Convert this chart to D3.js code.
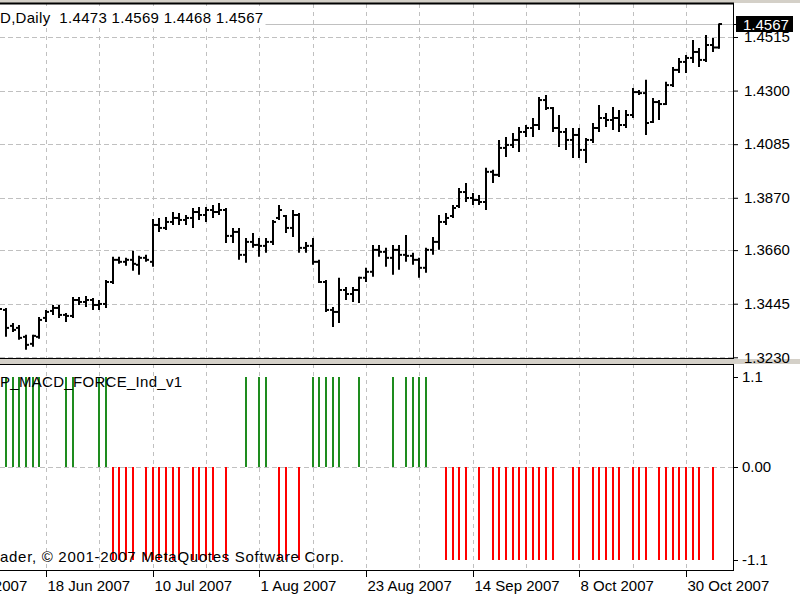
<!DOCTYPE html>
<html>
<head>
<meta charset="utf-8">
<script src="https://cdn.jsdelivr.net/npm/d3@7"></script>
<style>
body { margin: 0; background: #fff; }
svg text { font-family: "Liberation Sans", Arial, sans-serif; font-size: 15px; fill: #000; white-space: pre; }
</style>
</head>
<body>
<div id="chart"></div>
<script>
// daily bars, one entry per trading day (7 Jun 2007 .. 6 Nov 2007)
var opens = [
  1.3492, 1.3420, 1.3356, 1.3348, 1.3312, 1.3284, 1.3312, 1.3388, 1.3416, 1.3428,
  1.3400, 1.3396, 1.3460, 1.3452, 1.3460, 1.3440, 1.3444, 1.3532, 1.3621, 1.3613,
  1.3621, 1.3601, 1.3629, 1.3613, 1.3761, 1.3749, 1.3773, 1.3789, 1.3781, 1.3789,
  1.3813, 1.3801, 1.3821, 1.3813, 1.3821, 1.3717, 1.3733, 1.3641, 1.3693, 1.3681,
  1.3677, 1.3693, 1.3789, 1.3797, 1.3749, 1.3801, 1.3669, 1.3677, 1.3613, 1.3532,
  1.3420, 1.3412, 1.3500, 1.3484, 1.3500, 1.3549, 1.3573, 1.3661, 1.3653, 1.3629,
  1.3661, 1.3641, 1.3637, 1.3621, 1.3589, 1.3661, 1.3693, 1.3773, 1.3797, 1.3837,
  1.3893, 1.3869, 1.3861, 1.3853, 1.3974, 1.3962, 1.4070, 1.4082, 1.4102, 1.4134,
  1.4150, 1.4162, 1.4262, 1.4230, 1.4150, 1.4134, 1.4102, 1.4122, 1.4062, 1.4102,
  1.4150, 1.4190, 1.4182, 1.4190, 1.4162, 1.4202, 1.4294, 1.4290, 1.4174, 1.4254,
  1.4246, 1.4322, 1.4383, 1.4415, 1.4431, 1.4455, 1.4423, 1.4483, 1.4473
];
var highs = [
  1.3512, 1.3428, 1.3368, 1.3360, 1.3320, 1.3320, 1.3392, 1.3420, 1.3440, 1.3440,
  1.3408, 1.3472, 1.3472, 1.3476, 1.3468, 1.3460, 1.3540, 1.3633, 1.3633, 1.3629,
  1.3657, 1.3637, 1.3641, 1.3785, 1.3789, 1.3793, 1.3813, 1.3809, 1.3801, 1.3829,
  1.3833, 1.3833, 1.3841, 1.3849, 1.3829, 1.3749, 1.3749, 1.3709, 1.3729, 1.3709,
  1.3709, 1.3781, 1.3841, 1.3801, 1.3821, 1.3809, 1.3693, 1.3709, 1.3621, 1.3540,
  1.3432, 1.3549, 1.3512, 1.3512, 1.3553, 1.3589, 1.3681, 1.3681, 1.3669, 1.3681,
  1.3681, 1.3721, 1.3649, 1.3629, 1.3669, 1.3713, 1.3801, 1.3809, 1.3841, 1.3909,
  1.3929, 1.3889, 1.3881, 1.3990, 1.3982, 1.4102, 1.4114, 1.4130, 1.4154, 1.4162,
  1.4190, 1.4274, 1.4282, 1.4234, 1.4202, 1.4150, 1.4150, 1.4150, 1.4110, 1.4170,
  1.4242, 1.4210, 1.4234, 1.4222, 1.4222, 1.4310, 1.4302, 1.4343, 1.4270, 1.4262,
  1.4335, 1.4395, 1.4431, 1.4443, 1.4503, 1.4471, 1.4523, 1.4511, 1.4569
];
var lows = [
  1.3420, 1.3312, 1.3332, 1.3300, 1.3260, 1.3272, 1.3304, 1.3372, 1.3400, 1.3388,
  1.3372, 1.3388, 1.3440, 1.3432, 1.3420, 1.3420, 1.3428, 1.3524, 1.3605, 1.3597,
  1.3577, 1.3561, 1.3613, 1.3593, 1.3733, 1.3741, 1.3761, 1.3761, 1.3761, 1.3749,
  1.3781, 1.3773, 1.3789, 1.3801, 1.3689, 1.3689, 1.3621, 1.3609, 1.3669, 1.3633,
  1.3649, 1.3681, 1.3781, 1.3729, 1.3713, 1.3649, 1.3649, 1.3601, 1.3528, 1.3412,
  1.3352, 1.3368, 1.3460, 1.3452, 1.3448, 1.3532, 1.3553, 1.3633, 1.3593, 1.3561,
  1.3581, 1.3613, 1.3601, 1.3549, 1.3569, 1.3641, 1.3661, 1.3761, 1.3789, 1.3829,
  1.3853, 1.3841, 1.3841, 1.3821, 1.3929, 1.3953, 1.4034, 1.4070, 1.4054, 1.4114,
  1.4114, 1.4142, 1.4222, 1.4134, 1.4074, 1.4062, 1.4030, 1.4030, 1.4010, 1.4090,
  1.4134, 1.4154, 1.4142, 1.4134, 1.4150, 1.4190, 1.4282, 1.4122, 1.4170, 1.4182,
  1.4242, 1.4314, 1.4371, 1.4371, 1.4411, 1.4395, 1.4415, 1.4455, 1.4468
];
var closes = [
  1.3424, 1.3348, 1.3340, 1.3308, 1.3280, 1.3316, 1.3380, 1.3412, 1.3428, 1.3400,
  1.3396, 1.3460, 1.3452, 1.3460, 1.3440, 1.3444, 1.3532, 1.3621, 1.3613, 1.3621,
  1.3605, 1.3629, 1.3621, 1.3761, 1.3749, 1.3773, 1.3789, 1.3781, 1.3789, 1.3813,
  1.3801, 1.3821, 1.3813, 1.3821, 1.3717, 1.3733, 1.3641, 1.3693, 1.3681, 1.3677,
  1.3693, 1.3773, 1.3821, 1.3749, 1.3801, 1.3669, 1.3677, 1.3613, 1.3532, 1.3420,
  1.3412, 1.3500, 1.3484, 1.3500, 1.3549, 1.3573, 1.3661, 1.3653, 1.3629, 1.3661,
  1.3641, 1.3637, 1.3621, 1.3589, 1.3661, 1.3693, 1.3773, 1.3789, 1.3829, 1.3893,
  1.3869, 1.3861, 1.3853, 1.3974, 1.3962, 1.4070, 1.4082, 1.4102, 1.4134, 1.4150,
  1.4162, 1.4262, 1.4230, 1.4150, 1.4134, 1.4102, 1.4122, 1.4062, 1.4102, 1.4150,
  1.4190, 1.4182, 1.4190, 1.4162, 1.4202, 1.4294, 1.4290, 1.4170, 1.4254, 1.4246,
  1.4322, 1.4383, 1.4415, 1.4431, 1.4455, 1.4423, 1.4483, 1.4473, 1.4567
];
// indicator: +1.1 = green, -1.1 = red, 0 = nothing
var force = [
  0, 1.1, 1.1, 1.1, 1.1, 1.1, 1.1, 0, 0, 0,
  1.1, 1.1, 0, 0, 0, 1.1, 1.1, -1.1, -1.1, -1.1,
  -1.1, 0, -1.1, -1.1, -1.1, -1.1, -1.1, -1.1, 0, -1.1,
  -1.1, -1.1, -1.1, 0, -1.1, 0, 0, 1.1, 0, 1.1,
  1.1, 0, -1.1, -1.1, 0, -1.1, 0, 1.1, 1.1, 1.1,
  1.1, 1.1, 0, 0, 1.1, 0, 0, 0, 0, 1.1,
  0, 1.1, 1.1, 1.1, 1.1, 0, 0, -1.1, -1.1, -1.1,
  -1.1, 0, -1.1, 0, -1.1, -1.1, -1.1, -1.1, -1.1, -1.1,
  -1.1, -1.1, -1.1, -1.1, 0, 0, -1.1, -1.1, 0, -1.1,
  -1.1, -1.1, -1.1, -1.1, 0, -1.1, -1.1, -1.1, 0, -1.1,
  -1.1, -1.1, -1.1, -1.1, -1.1, -1.1, 0, -1.1, 0
];
var priceTicks = [1.3230, 1.3445, 1.3660, 1.3870, 1.4085, 1.4300, 1.4515];
var forceTicks = [1.1, 0, -1.1];
var forceTickLabels = ["1.1", "0.00", "-1.1"];
var dateTicks = [-9, 7, 23, 39, 55, 71, 87, 103];   // bar index of each date label
var dateLabels = ["25 May 2007", "18 Jun 2007", "10 Jul 2007", "1 Aug 2007",
                  "23 Aug 2007", "14 Sep 2007", "8 Oct 2007", "30 Oct 2007"];
var lastBid = 1.4567;
var title = "D,Daily  1.4473 1.4569 1.4468 1.4567";
var indName = "P_MACD_FORCE_Ind_v1";
var copyright = "ader, \u00a9 2001-2007 MetaQuotes Software Corp.";

var W = 800, H = 600;
var right = 733, mainTop = 4, mainBottom = 358, subTop = 364, subBottom = 570;
var gridCol = "#c0c0c0";

var svg = d3.select("#chart").append("svg").attr("width", W).attr("height", H);
svg.append("rect").attr("width", W).attr("height", H).attr("fill", "#fff");

var x = d3.scaleLinear().domain([0, 108]).range([-0.7, 719.3]);
var y = d3.scaleLinear().domain([1.3230, 1.4515]).range([357.3, 37]);
var yf = d3.scaleLinear().domain([-1.1, 0, 1.1]).range([560, 467, 377]);
var px = function(i) { return Math.round(x(i)); };

svg.append("clipPath").attr("id", "cm").append("rect")
  .attr("x", 0).attr("y", mainTop).attr("width", right).attr("height", mainBottom - mainTop);
svg.append("clipPath").attr("id", "cs").append("rect")
  .attr("x", 0).attr("y", subTop).attr("width", right).attr("height", subBottom - subTop);

var main = svg.append("g").attr("clip-path", "url(#cm)");
var sub = svg.append("g").attr("clip-path", "url(#cs)");

// grid lines
var vgrid = d3.range(7, 109, 8);
[[main, mainTop, mainBottom], [sub, subTop, subBottom]].forEach(function(p) {
  p[0].selectAll(".vg").data(vgrid).enter().append("line")
    .attr("x1", function(d) { return px(d) + 0.5; })
    .attr("x2", function(d) { return px(d) + 0.5; })
    .attr("y1", p[1]).attr("y2", p[2])
    .attr("stroke", gridCol).attr("stroke-dasharray", "4,4");
});
main.selectAll(".hg").data(priceTicks).enter().append("line")
  .attr("x1", 0).attr("x2", right)
  .attr("y1", function(d) { return Math.round(y(d)) + 0.5; })
  .attr("y2", function(d) { return Math.round(y(d)) + 0.5; })
  .attr("stroke", gridCol).attr("stroke-dasharray", "5,3");
sub.append("line")
  .attr("x1", 0).attr("x2", right)
  .attr("y1", Math.round(yf(0)) + 0.5).attr("y2", Math.round(yf(0)) + 0.5)
  .attr("stroke", gridCol).attr("stroke-dasharray", "5,3");

// bid line
main.append("line").attr("x1", 0).attr("x2", right)
  .attr("y1", Math.round(y(lastBid)) + 0.5).attr("y2", Math.round(y(lastBid)) + 0.5)
  .attr("stroke", "#c0c0c0");

// OHLC bars
var bars = main.selectAll(".bar").data(d3.range(opens.length)).enter().append("g");
bars.append("line")
  .attr("x1", px).attr("x2", px)
  .attr("y1", function(i) { return y(highs[i]); })
  .attr("y2", function(i) { return y(lows[i]); })
  .attr("stroke", "#000").attr("stroke-width", 2);
bars.append("line")
  .attr("x1", function(i) { return px(i) - 3; }).attr("x2", px)
  .attr("y1", function(i) { return y(opens[i]); })
  .attr("y2", function(i) { return y(opens[i]); })
  .attr("stroke", "#000").attr("stroke-width", 2);
bars.append("line")
  .attr("x1", px).attr("x2", function(i) { return px(i) + 3; })
  .attr("y1", function(i) { return y(closes[i]); })
  .attr("y2", function(i) { return y(closes[i]); })
  .attr("stroke", "#000").attr("stroke-width", 2);

// indicator histogram
sub.selectAll(".fb").data(d3.range(force.length).filter(function(i) { return force[i] !== 0; }))
  .enter().append("line")
  .attr("x1", px).attr("x2", px)
  .attr("y1", yf(0))
  .attr("y2", function(i) { return yf(force[i]); })
  .attr("stroke", function(i) { return force[i] > 0 ? "#1e8c1e" : "#ff0000"; })
  .attr("stroke-width", 2);

// frames
svg.append("rect").attr("x", 0).attr("y", 0).attr("width", W).attr("height", 3).attr("fill", "#d4d0c8");
svg.append("line").attr("x1", 0).attr("x2", right + 1).attr("y1", 3.5).attr("y2", 3.5).attr("stroke", "#000").attr("stroke-width", 2);
svg.append("rect").attr("x", 0).attr("y", 359).attr("width", W).attr("height", 5).attr("fill", "#d4d0c8");
svg.append("line").attr("x1", 0).attr("x2", right + 1).attr("y1", mainBottom + 0.5).attr("y2", mainBottom + 0.5).attr("stroke", "#000");
svg.append("line").attr("x1", 0).attr("x2", right + 1).attr("y1", subTop + 0.5).attr("y2", subTop + 0.5).attr("stroke", "#000");
svg.append("line").attr("x1", 0).attr("x2", right + 1).attr("y1", subBottom + 0.5).attr("y2", subBottom + 0.5).attr("stroke", "#000");
svg.append("line").attr("x1", right + 0.5).attr("x2", right + 0.5).attr("y1", mainTop).attr("y2", mainBottom + 1).attr("stroke", "#000");
svg.append("line").attr("x1", right + 0.5).attr("x2", right + 0.5).attr("y1", subTop).attr("y2", subBottom + 1).attr("stroke", "#000");

// axes
var ay = svg.append("g").attr("transform", "translate(" + (right + 1) + ",0)")
  .call(d3.axisRight(y).tickValues(priceTicks).tickFormat(d3.format(".4f")).tickSize(4).tickPadding(6));
var af = svg.append("g").attr("transform", "translate(" + (right + 1) + ",0)")
  .call(d3.axisRight(yf).tickValues(forceTicks)
    .tickFormat(function(d, i) { return forceTickLabels[i]; }).tickSize(4).tickPadding(4));
var ax = svg.append("g").attr("transform", "translate(0," + (subBottom + 1) + ")")
  .call(d3.axisBottom(x).tickValues(dateTicks)
    .tickFormat(function(d, i) { return dateLabels[i]; }).tickSize(6));
[ay, af, ax].forEach(function(a) {
  a.select(".domain").remove();
  a.selectAll("text").attr("font-family", null).attr("font-size", null).attr("fill", "#000");
  a.selectAll("line").attr("stroke", "#000");
});
ax.selectAll(".tick").attr("transform", function(d) { return "translate(" + (px(d) + 0.5) + ",0)"; });
ax.selectAll("text").attr("text-anchor", "start").attr("x", 1).attr("y", 9);

// last price box
var by = Math.round(y(lastBid));
svg.append("rect").attr("x", 736).attr("y", by - 8).attr("width", 57).attr("height", 16).attr("fill", "#000");
svg.append("line").attr("x1", right).attr("x2", 737).attr("y1", by + 0.5).attr("y2", by + 0.5).attr("stroke", "#000");
svg.append("text").attr("x", 743).attr("y", by + 5.5).style("fill", "#fff").text(d3.format(".4f")(lastBid));

// labels
var tg = svg.append("g");
var tbg = tg.append("rect").attr("fill", "#fff");
var t = tg.append("text").attr("x", 0).attr("y", 23).style("letter-spacing", "0.3px").text(title);
var bb = t.node().getBBox();
tbg.attr("x", 0).attr("y", mainTop + 2).attr("width", bb.width + 2).attr("height", 20);
svg.append("text").attr("x", 0).attr("y", 387).style("letter-spacing", "0.3px").text(indName);
svg.append("text").attr("x", 0).attr("y", 562).style("letter-spacing", "0.7px").text(copyright);
</script>
</body>
</html>
